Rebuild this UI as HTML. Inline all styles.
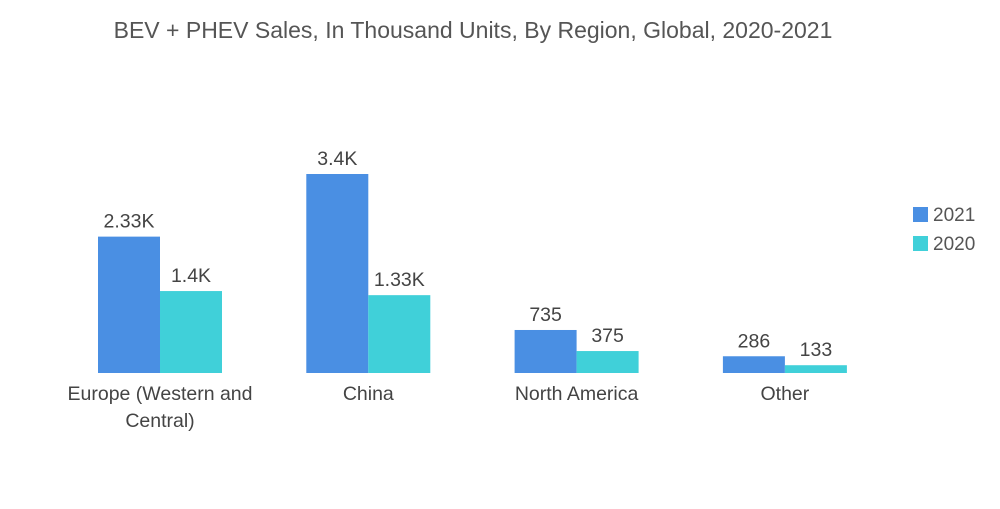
<!DOCTYPE html>
<html><head><meta charset="utf-8"><style>
body{margin:0;background:#fff;width:1000px;height:504px;overflow:hidden;font-family:"Liberation Sans",sans-serif}
</style></head><body>
<svg width="1000" height="504">
<text x="473" y="38" text-anchor="middle" font-size="23" fill="#555">BEV + PHEV Sales, In Thousand Units, By Region, Global, 2020-2021</text>
<g id="bars"></g>
<g>
<rect x="913" y="207" width="15" height="15" fill="#4a8fe3"/>
<text x="933" y="221" font-size="19" fill="#555">2021</text>
<rect x="913" y="236" width="15" height="15" fill="#40d0d9"/>
<text x="933" y="250" font-size="19" fill="#555">2020</text>
</g>
</svg>
<script>
const categories=[["Europe (Western and","Central)"],["China"],["North America"],["Other"]];
const values2021=[2330,3400,735,286];
const values2020=[1400,1330,375,133];
const labels2021=["2.33K","3.4K","735","286"];
const labels2020=["1.4K","1.33K","375","133"];
const NS="http://www.w3.org/2000/svg";
const g=document.getElementById('bars');
const base=373,scale=199/3400;
const y=v=>base-v*scale;
const x0=i=>98+i*208.3;
const bw=62;
function mk(tag,attrs,txt){const e=document.createElementNS(NS,tag);for(const k in attrs)e.setAttribute(k,attrs[k]);if(txt!==undefined)e.textContent=txt;g.appendChild(e);return e;}
categories.forEach((c,i)=>{
  [[values2021,labels2021,"#4a8fe3",0,"2021"],[values2020,labels2020,"#40d0d9",bw,"2020"]].forEach(([vals,labs,col,off,yr])=>{
    const v=vals[i];
    const r=mk('rect',{x:x0(i)+off,y:y(v),width:bw,height:base-y(v),fill:col});
    
    
    const t=mk('text',{x:x0(i)+off+bw/2,y:y(v)-9,'text-anchor':'middle','font-size':19.5,fill:'#444'},labs[i]);
    
    
  });
  c.forEach((line,j)=>{
    const t=mk('text',{x:x0(i)+bw,y:400+j*27,'text-anchor':'middle','font-size':19.5,fill:'#444'},line);
    
    
  });
});
</script>
</body></html>
